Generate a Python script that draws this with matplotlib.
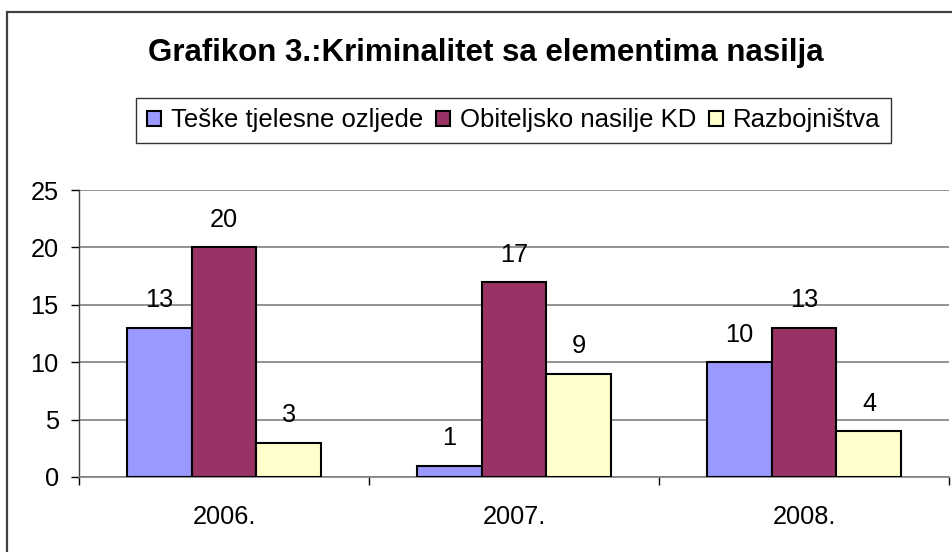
import numpy as np
import matplotlib
matplotlib.use("Agg")
import matplotlib.pyplot as plt
from matplotlib.patches import Rectangle

plt.rcParams["font.family"] = ["Liberation Sans", "DejaVu Sans"]

# podaci
godine = ["2006.", "2007.", "2008."]
serije = ["Teške tjelesne ozljede", "Obiteljsko nasilje KD", "Razbojništva"]
teske_ozljede = [13, 1, 10]
obiteljsko_nasilje = [20, 17, 13]
razbojnistva = [3, 9, 4]
boje = ["#9999FF", "#993366", "#FFFFCC"]
y_ticks = [0, 5, 10, 15, 20, 25]

FS = 18.3

fig = plt.figure(figsize=(9.53, 5.52), dpi=100)
ax = fig.add_axes([79 / 953, 1 - 477 / 552, 870 / 953, 287 / 552])

x = np.arange(len(godine))
w = 0.224
vrijednosti = [teske_ozljede, obiteljsko_nasilje, razbojnistva]
for i, (naziv, vals, boja) in enumerate(zip(serije, vrijednosti, boje)):
    bars = ax.bar(x + (i - 1) * w, vals, w, color=boja, edgecolor="black",
                  linewidth=1.5, label=naziv, zorder=3)
    for b, v in zip(bars, vals):
        ax.annotate(str(v), (b.get_x() + b.get_width() / 2, v),
                    xytext=(0, 11), textcoords="offset points",
                    ha="center", va="bottom", fontsize=FS)

ax.set_xlim(-0.5, len(godine) - 0.5)
ax.set_ylim(0, 25)
ax.set_yticks(y_ticks)
ax.grid(axis="y", color="#808080", linewidth=1.2, zorder=0)
ax.set_axisbelow(True)

ax.set_xticks(x)
ax.set_xticklabels(godine, fontsize=FS)
ax.set_xticks(np.arange(-0.5, len(godine)), minor=True)
ax.tick_params(axis="x", which="major", length=0, pad=20)
ax.tick_params(axis="x", which="minor", length=6, width=1, color="black", direction="out")
ax.tick_params(axis="y", labelsize=FS, length=6, width=1, pad=8.5, color="black")

for s in ["top", "right"]:
    ax.spines[s].set_visible(False)
ax.spines["left"].set_color("#404040")
ax.spines["bottom"].set_color("#808080")
ax.spines["left"].set_linewidth(1)
ax.spines["bottom"].set_linewidth(1.2)

fig.text(486 / 953, 1 - 61 / 552, "Grafikon 3.:Kriminalitet sa elementima nasilja",
         ha="center", va="baseline", fontsize=22.5, fontweight="bold")

leg = fig.legend(loc="center", bbox_to_anchor=(513.5 / 953, 1 - 120.5 / 552), ncol=3,
                 fontsize=18.5, frameon=True, fancybox=False, edgecolor="black",
                 handlelength=0.55, handleheight=0.55, handletextpad=0.38,
                 columnspacing=0.5, borderpad=0.4, borderaxespad=0)
leg.get_frame().set_linewidth(1)

# okvir grafikona
fig.patches.append(Rectangle((7 / 953, -0.1), 1.2, 1 - 12 / 552 + 0.1,
                             transform=fig.transFigure, fill=False,
                             edgecolor="#404040", linewidth=1.6, zorder=0))

fig.savefig("out.png", dpi=100)
